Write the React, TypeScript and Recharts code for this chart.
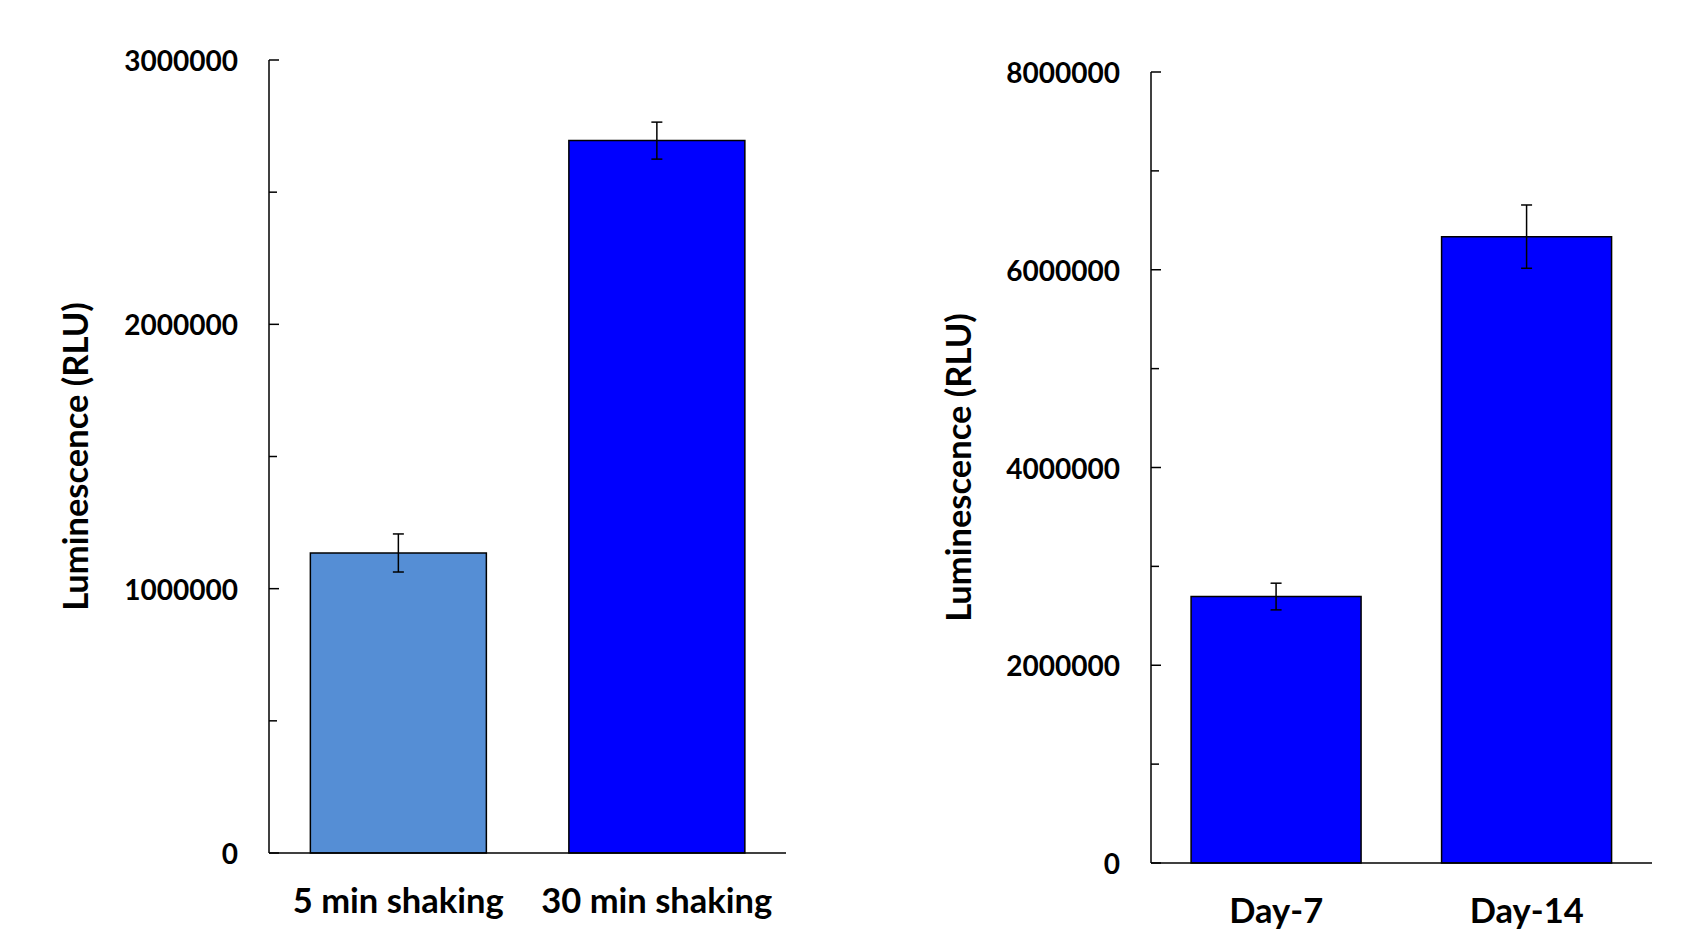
import { BarChart, Bar, XAxis, YAxis, ErrorBar, Cell, Label } from 'recharts';

// left panel: shaking time
const shakeCategories = ['5 min shaking', '30 min shaking'];
const shakeValues = [1135000, 2695000];
const shakeErrors = [72000, 70000];
const shakeTicks = [0, 500000, 1000000, 1500000, 2000000, 2500000, 3000000];
const shakeLabeledTicks = [0, 1000000, 2000000, 3000000];

// right panel: culture day
const dayCategories = ['Day-7', 'Day-14'];
const dayValues = [2695000, 6335000];
const dayErrors = [135000, 320000];
const dayTicks = [0, 1000000, 2000000, 3000000, 4000000, 5000000, 6000000, 7000000, 8000000];
const dayLabeledTicks = [0, 2000000, 4000000, 6000000, 8000000];

const yTitle = 'Luminescence (RLU)';

const shakeColors = ['#558ED5', '#0000FF'];
const dayColors = ['#0000FF', '#0000FF'];

const FONT = 'Lato, "Open Sans", sans-serif';

type PanelProps = {
  categories: string[];
  values: number[];
  errors: number[];
  ticks: number[];
  labeledTicks: number[];
  colors: string[];
  width: number;
  height: number;
  yAxisWidth: number;
  margin: { top: number; right: number; bottom: number; left: number };
  titleX: number;
};

function Panel(p: PanelProps) {
  const data = p.categories.map((name, i) => ({
    name,
    value: p.values[i],
    err: p.errors[i],
  }));
  const max = p.ticks[p.ticks.length - 1];

  const renderYTick = (props: any) => {
    const { x, y, payload } = props;
    const major = p.labeledTicks.includes(payload.value);
    return (
      <g>
        <line x1={x} x2={x + (major ? 10 : 8)} y1={y} y2={y} stroke="#000" strokeWidth={1.5} />
        {major && (
          <text
            x={x - 31}
            y={y}
            textAnchor="end"
            dominantBaseline="central"
            fontFamily={FONT}
            fontWeight={700}
            fontSize={28}
            fill="#000"
          >
            {payload.value}
          </text>
        )}
      </g>
    );
  };

  const renderXTick = (props: any) => {
    const { x, y, payload } = props;
    return (
      <text
        x={x}
        y={y + 33}
        textAnchor="middle"
        dominantBaseline="hanging"
        fontFamily={FONT}
        fontWeight={700}
        fontSize={34.5}
        fill="#000"
      >
        {payload.value}
      </text>
    );
  };

  return (
    <BarChart width={p.width} height={p.height} data={data} margin={p.margin} barCategoryGap="16%">
      <XAxis
        dataKey="name"
        height={30}
        axisLine={{ stroke: '#000', strokeWidth: 1.5 }}
        tickLine={false}
        tickSize={0}
        tickMargin={0}
        tick={renderXTick}
        interval={0}
      />
      <YAxis
        width={p.yAxisWidth}
        domain={[0, max]}
        ticks={p.ticks}
        interval={0}
        axisLine={{ stroke: '#000', strokeWidth: 1.5 }}
        tickLine={false}
        tickSize={0}
        tickMargin={0}
        tick={renderYTick}
      >
        <Label
          content={(lp: any) => {
            const vb = lp.viewBox;
            const cy = vb.y + vb.height / 2;
            return (
              <text
                x={p.titleX}
                y={cy}
                transform={`rotate(-90 ${p.titleX} ${cy})`}
                textAnchor="middle"
                dominantBaseline="central"
                fontFamily={FONT}
                fontWeight={700}
                fontSize={34.5}
                fill="#000"
              >
                {yTitle}
              </text>
            );
          }}
        />
      </YAxis>
      <Bar dataKey="value" stroke="#000" strokeWidth={1.5} isAnimationActive={false}>
        {data.map((d, i) => (
          <Cell key={d.name} fill={p.colors[i]} />
        ))}
        <ErrorBar dataKey="err" width={5.5} stroke="#000" strokeWidth={1.5} isAnimationActive={false} />
      </Bar>
    </BarChart>
  );
}

export default function App() {
  return (
    <div style={{ position: 'absolute', left: 0, top: 0, width: 1692, height: 942, background: '#fff' }}>
      <div style={{ position: 'absolute', left: 0, top: 0 }}>
        <Panel
          categories={shakeCategories}
          values={shakeValues}
          errors={shakeErrors}
          ticks={shakeTicks}
          labeledTicks={shakeLabeledTicks}
          colors={shakeColors}
          width={846}
          height={942}
          yAxisWidth={269}
          margin={{ top: 60, right: 60, bottom: 59, left: 0 }}
          titleX={74}
        />
      </div>
      <div style={{ position: 'absolute', left: 846, top: 0 }}>
        <Panel
          categories={dayCategories}
          values={dayValues}
          errors={dayErrors}
          ticks={dayTicks}
          labeledTicks={dayLabeledTicks}
          colors={dayColors}
          width={846}
          height={942}
          yAxisWidth={305}
          margin={{ top: 72, right: 40, bottom: 49, left: 0 }}
          titleX={111}
        />
      </div>
    </div>
  );
}
